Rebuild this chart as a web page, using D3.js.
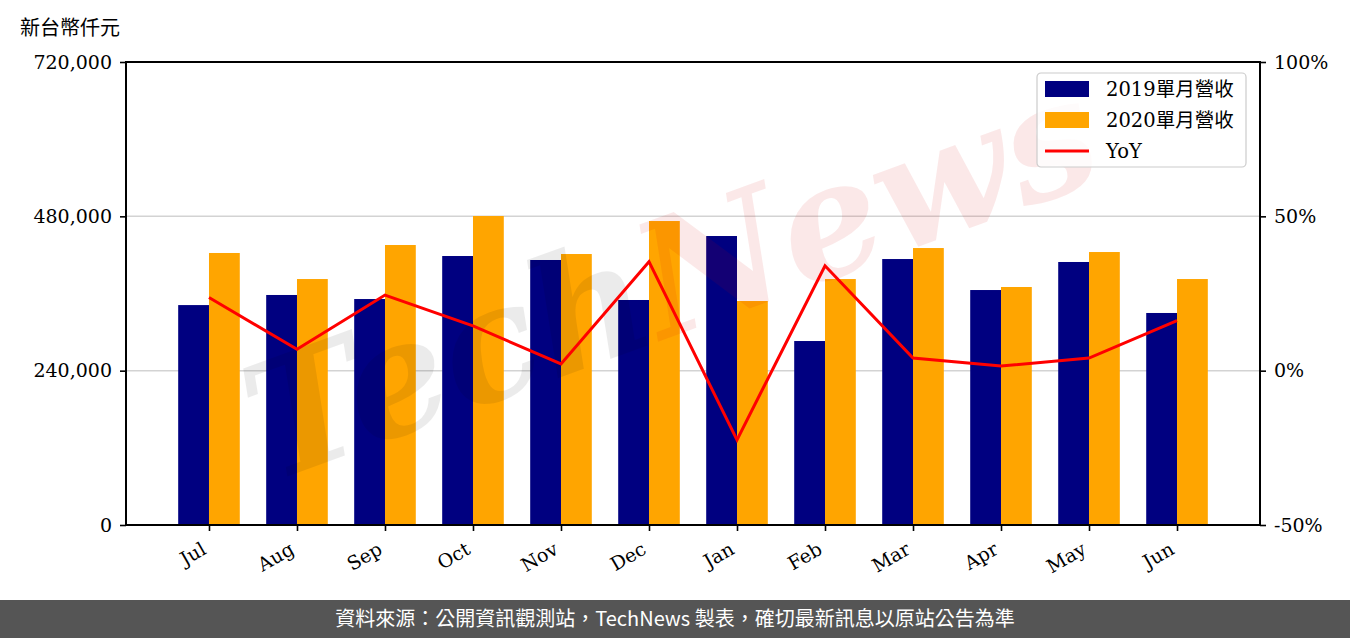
<!DOCTYPE html>
<html><head><meta charset="utf-8">
<script src="https://cdn.jsdelivr.net/npm/d3@7"></script>
<style>
body{margin:0;background:#fff;}
svg{display:block;}
</style></head>
<body>
<svg id="chart" width="1350" height="638"></svg>
<script>
const months = ["Jul","Aug","Sep","Oct","Nov","Dec","Jan","Feb","Mar","Apr","May","Jun"];
const rev2019 = [342000, 357700, 351400, 418300, 412100, 349900, 449400, 286100, 413600, 365400, 409000, 329700];
const rev2020 = [423000, 382500, 435400, 480500, 421400, 472700, 348300, 382500, 430700, 370100, 424500, 382500];
const yoy = [23.7, 6.9, 24.5, 14.5, 2.2, 35.3, -22.4, 34.0, 4.1, 1.5, 4.1, 16.2];
const leftTicks = [0, 240000, 480000, 720000];
const rightTicks = [-50, 0, 50, 100];
const seriesNames = ["2019單月營收", "2020單月營收", "YoY"];
const colors = ["#000080", "#FFA500", "#FF0000"];

const svg = d3.select("#chart");
const m = {l:126, r:1260, t:62, b:525};
const serif = "'DejaVu Serif',serif";
const serifCJK = "'DejaVu Serif','Noto Sans CJK TC',serif";

const x = d3.scaleLinear().domain([-0.943, 11.943]).range([m.l, m.r]);
const y = d3.scaleLinear().domain([0, 720000]).range([m.b, m.t]);
const y2 = d3.scaleLinear().domain([-50, 100]).range([m.b, m.t]);
const bw = x(0.35) - x(0);

// grid
svg.append("g").selectAll("line").data([240000, 480000]).join("line")
  .attr("x1", m.l).attr("x2", m.r).attr("y1", d=>y(d)).attr("y2", d=>y(d))
  .attr("stroke","#d3d3d3").attr("stroke-width",1.5);

// bars
svg.append("g").selectAll("rect").data(rev2019).join("rect")
  .attr("x",(d,i)=>x(i)-bw).attr("width",bw).attr("y",d=>y(d)).attr("height",d=>y(0)-y(d))
  .attr("fill",colors[0]);
svg.append("g").selectAll("rect").data(rev2020).join("rect")
  .attr("x",(d,i)=>x(i)).attr("width",bw).attr("y",d=>y(d)).attr("height",d=>y(0)-y(d))
  .attr("fill",colors[1]);

// watermark (decorative)
const wmt = svg.append("text").attr("transform","translate(690,330) rotate(-20)")
  .attr("text-anchor","middle")
  .attr("font-family","'DejaVu Serif',serif").attr("font-style","italic").attr("font-weight","bold")
  .attr("font-size",160);
wmt.append("tspan").attr("fill","#000").attr("fill-opacity",0.08).text("Tech");
wmt.append("tspan").attr("fill","#d00000").attr("fill-opacity",0.09).text("News");

// line
svg.append("path").datum(yoy)
  .attr("d", d3.line().x((d,i)=>x(i)).y(d=>y2(d)))
  .attr("fill","none").attr("stroke",colors[2]).attr("stroke-width",3);

// axes
const fmt = d3.format(",");
const gl = svg.append("g").attr("transform",`translate(${m.l},0)`)
  .call(d3.axisLeft(y).tickValues(leftTicks).tickFormat(d=>fmt(d)).tickSize(6).tickPadding(8));
const gr = svg.append("g").attr("transform",`translate(${m.r},0)`)
  .call(d3.axisRight(y2).tickValues(rightTicks).tickFormat(d=>d+"%").tickSize(6).tickPadding(8));
const gb = svg.append("g").attr("transform",`translate(0,${m.b})`)
  .call(d3.axisBottom(x).tickValues(d3.range(12)).tickFormat(i=>months[i]).tickSize(6).tickPadding(6));
[gl,gr,gb].forEach(g=>{
  g.select(".domain").remove();
  g.selectAll(".tick line").attr("stroke","#000").attr("stroke-width",1.6);
  g.selectAll(".tick text").attr("font-family",serif).attr("font-size",19).attr("fill","#000");
});
gb.selectAll(".tick text").attr("text-anchor","end")
  .attr("x",0).attr("y",0).attr("dy",0)
  .attr("transform","translate(-2,28) rotate(-30)");

// frame
svg.append("rect").attr("x",m.l).attr("y",m.t).attr("width",m.r-m.l).attr("height",m.b-m.t)
  .attr("fill","none").attr("stroke","#000").attr("stroke-width",2);

// unit title
svg.append("text").attr("x",20).attr("y",28).attr("dy","0.36em").attr("font-family","'Noto Sans CJK TC',sans-serif")
  .attr("font-size",20).attr("fill","#000").text("新台幣仟元");

// legend
const lg = svg.append("g").attr("transform","translate(1037,73)");
lg.append("rect").attr("width",209).attr("height",94).attr("rx",4)
  .attr("fill","#fff").attr("fill-opacity",0.8).attr("stroke","#ccc").attr("stroke-width",1.2);
seriesNames.forEach((s,i)=>{
  const cy = 16 + i*31;
  if(i<2) lg.append("rect").attr("x",8).attr("y",cy-8).attr("width",44).attr("height",16).attr("fill",colors[i]);
  else lg.append("line").attr("x1",8).attr("x2",52).attr("y1",cy).attr("y2",cy).attr("stroke",colors[i]).attr("stroke-width",3);
  lg.append("text").attr("x",69).attr("y",cy).attr("dy","0.36em")
    .attr("font-family",serifCJK).attr("font-size",19.5).attr("fill","#000").text(s);
});

// footer
svg.append("rect").attr("x",0).attr("y",600).attr("width",1350).attr("height",38).attr("fill","#555");
svg.append("text").attr("x",675).attr("y",619).attr("dy","0.36em").attr("text-anchor","middle")
  .attr("font-family","'Noto Sans CJK TC',sans-serif").attr("font-size",20).attr("fill","#fff")
  .text("資料來源：公開資訊觀測站，TechNews 製表，確切最新訊息以原站公告為準");
</script>
</body></html>
